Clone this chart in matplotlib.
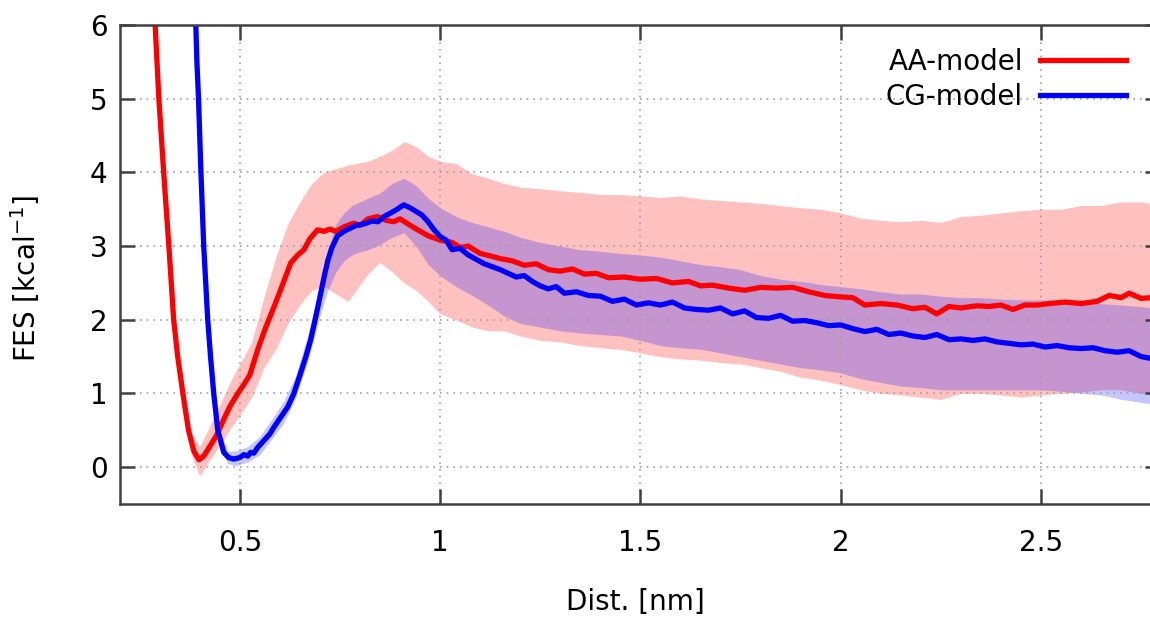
import numpy as np
import matplotlib
matplotlib.use("Agg")
import matplotlib.pyplot as plt

# AA-model curve (dist in nm, FES in kcal)
aa_dist = [0.285, 0.298, 0.310, 0.323, 0.335, 0.345, 0.358, 0.372, 0.385, 0.398,
           0.410, 0.425, 0.445, 0.460, 0.475, 0.495, 0.510, 0.525, 0.545, 0.565,
           0.585, 0.605, 0.627, 0.645, 0.660, 0.675, 0.694, 0.710, 0.725, 0.740,
           0.760, 0.784, 0.800, 0.820, 0.844, 0.865, 0.884, 0.900, 0.920, 0.944,
           0.970, 1.000, 1.030, 1.050, 1.070, 1.100, 1.130, 1.150, 1.180, 1.210,
           1.240, 1.270, 1.300, 1.330, 1.360, 1.390, 1.420, 1.460, 1.500, 1.540,
           1.580, 1.620, 1.650, 1.680, 1.720, 1.760, 1.800, 1.840, 1.880, 1.920,
           1.960, 2.000, 2.030, 2.060, 2.100, 2.140, 2.180, 2.210, 2.240, 2.270,
           2.300, 2.340, 2.370, 2.400, 2.430, 2.460, 2.490, 2.520, 2.560, 2.600,
           2.640, 2.670, 2.700, 2.720, 2.750, 2.800]
aa_fes = [6.40, 5.00, 4.00, 3.00, 2.00, 1.50, 1.00, 0.50, 0.22, 0.10,
          0.15, 0.28, 0.46, 0.65, 0.82, 1.00, 1.12, 1.25, 1.60, 1.90,
          2.17, 2.45, 2.77, 2.88, 2.95, 3.10, 3.22, 3.20, 3.23, 3.20,
          3.26, 3.31, 3.28, 3.37, 3.40, 3.35, 3.33, 3.37, 3.30, 3.22,
          3.14, 3.08, 3.05, 2.98, 3.00, 2.90, 2.86, 2.83, 2.80, 2.74,
          2.76, 2.68, 2.66, 2.69, 2.62, 2.63, 2.57, 2.58, 2.55, 2.56,
          2.50, 2.52, 2.46, 2.47, 2.43, 2.40, 2.44, 2.43, 2.44, 2.38,
          2.33, 2.31, 2.30, 2.20, 2.22, 2.20, 2.15, 2.17, 2.08, 2.18,
          2.16, 2.19, 2.18, 2.20, 2.14, 2.20, 2.20, 2.22, 2.24, 2.22,
          2.25, 2.33, 2.30, 2.36, 2.29, 2.31]

# AA-model error band
aa_band_x = [0.36, 0.38, 0.40, 0.42, 0.45, 0.48, 0.50, 0.53, 0.56, 0.59,
             0.62, 0.65, 0.68, 0.71, 0.74, 0.77, 0.79, 0.82, 0.85, 0.88,
             0.91, 0.94, 0.97, 1.00, 1.04, 1.08, 1.12, 1.16, 1.20, 1.25,
             1.30, 1.35, 1.40, 1.45, 1.50, 1.55, 1.60, 1.65, 1.70, 1.75,
             1.80, 1.85, 1.90, 1.95, 2.00, 2.05, 2.10, 2.15, 2.20, 2.25,
             2.30, 2.35, 2.40, 2.45, 2.50, 2.55, 2.60, 2.65, 2.70, 2.75, 2.80]
aa_lower = [0.85, 0.15, -0.12, 0.05, 0.30, 0.55, 0.70, 0.95, 1.35, 1.60,
            1.95, 2.20, 2.40, 2.45, 2.35, 2.25, 2.40, 2.62, 2.78, 2.65,
            2.50, 2.40, 2.25, 2.08, 2.00, 1.90, 1.85, 1.85, 1.78, 1.72,
            1.70, 1.65, 1.62, 1.60, 1.55, 1.50, 1.47, 1.45, 1.42, 1.40,
            1.35, 1.30, 1.22, 1.18, 1.12, 1.05, 1.00, 0.98, 0.95, 0.92,
            1.00, 1.00, 0.98, 0.95, 0.98, 1.00, 1.02, 1.05, 1.05, 1.00, 0.98]
aa_upper = [1.05, 0.45, 0.28, 0.50, 0.85, 1.20, 1.40, 1.70, 2.30, 2.85,
            3.30, 3.60, 3.85, 4.00, 4.05, 4.10, 4.12, 4.15, 4.22, 4.30,
            4.42, 4.35, 4.22, 4.15, 4.12, 3.98, 3.92, 3.85, 3.80, 3.78,
            3.75, 3.73, 3.70, 3.70, 3.68, 3.66, 3.68, 3.64, 3.62, 3.60,
            3.58, 3.55, 3.52, 3.50, 3.45, 3.38, 3.35, 3.33, 3.35, 3.32,
            3.40, 3.42, 3.45, 3.48, 3.50, 3.50, 3.55, 3.55, 3.60, 3.60, 3.55]

# CG-model curve
cg_dist = [0.388, 0.393, 0.397, 0.403, 0.410, 0.420, 0.427, 0.435, 0.445, 0.460,
           0.472, 0.485, 0.500, 0.510, 0.520, 0.527, 0.535, 0.545, 0.560, 0.575,
           0.585, 0.600, 0.620, 0.635, 0.652, 0.665, 0.677, 0.690, 0.702, 0.712,
           0.720, 0.730, 0.744, 0.760, 0.775, 0.790, 0.810, 0.830, 0.845, 0.860,
           0.877, 0.893, 0.909, 0.925, 0.940, 0.955, 0.970, 0.985, 1.000, 1.015,
           1.030, 1.050, 1.070, 1.090, 1.110, 1.130, 1.150, 1.170, 1.190, 1.210,
           1.230, 1.250, 1.270, 1.290, 1.310, 1.340, 1.370, 1.400, 1.430, 1.460,
           1.490, 1.520, 1.550, 1.580, 1.610, 1.640, 1.670, 1.700, 1.730, 1.760,
           1.790, 1.820, 1.850, 1.880, 1.910, 1.940, 1.970, 2.000, 2.030, 2.060,
           2.090, 2.120, 2.150, 2.180, 2.210, 2.240, 2.270, 2.300, 2.330, 2.360,
           2.390, 2.420, 2.450, 2.480, 2.510, 2.540, 2.570, 2.600, 2.630, 2.660,
           2.690, 2.720, 2.750, 2.800]
cg_fes = [6.40, 5.50, 5.00, 4.00, 3.00, 2.00, 1.50, 1.00, 0.50, 0.20,
          0.13, 0.11, 0.13, 0.17, 0.15, 0.20, 0.19, 0.27, 0.36, 0.45,
          0.54, 0.66, 0.82, 1.00, 1.28, 1.50, 1.73, 2.05, 2.36, 2.62,
          2.81, 2.98, 3.14, 3.20, 3.24, 3.28, 3.30, 3.34, 3.33, 3.40,
          3.45, 3.50, 3.56, 3.52, 3.47, 3.42, 3.33, 3.22, 3.13, 3.08,
          2.95, 2.97, 2.88, 2.82, 2.76, 2.72, 2.68, 2.63, 2.58, 2.60,
          2.52, 2.46, 2.42, 2.45, 2.36, 2.38, 2.33, 2.32, 2.25, 2.28,
          2.20, 2.23, 2.20, 2.24, 2.16, 2.14, 2.13, 2.16, 2.08, 2.12,
          2.03, 2.02, 2.06, 1.98, 1.99, 1.96, 1.92, 1.93, 1.88, 1.84,
          1.87, 1.80, 1.82, 1.78, 1.76, 1.80, 1.73, 1.74, 1.72, 1.74,
          1.70, 1.68, 1.66, 1.67, 1.63, 1.65, 1.62, 1.61, 1.62, 1.58,
          1.56, 1.58, 1.50, 1.45]

# CG-model error band
cg_band_x = [0.44, 0.45, 0.47, 0.49, 0.52, 0.55, 0.58, 0.61, 0.64, 0.67,
             0.70, 0.72, 0.74, 0.76, 0.78, 0.80, 0.82, 0.85, 0.88, 0.91,
             0.94, 0.97, 1.00, 1.04, 1.08, 1.12, 1.16, 1.20, 1.25, 1.30,
             1.35, 1.40, 1.45, 1.50, 1.55, 1.60, 1.65, 1.70, 1.75, 1.80,
             1.85, 1.90, 1.95, 2.00, 2.05, 2.10, 2.15, 2.20, 2.25, 2.30,
             2.35, 2.40, 2.45, 2.50, 2.55, 2.60, 2.65, 2.70, 2.75, 2.80]
cg_lower = [0.55, 0.30, 0.05, 0.02, 0.07, 0.17, 0.38, 0.60, 0.95, 1.45,
            2.05, 2.40, 2.65, 2.80, 2.88, 2.92, 2.95, 3.02, 3.12, 3.18,
            3.00, 2.75, 2.60, 2.45, 2.33, 2.20, 2.05, 1.95, 1.90, 1.85,
            1.82, 1.80, 1.78, 1.72, 1.65, 1.62, 1.60, 1.55, 1.50, 1.45,
            1.40, 1.35, 1.32, 1.28, 1.20, 1.15, 1.10, 1.08, 1.05, 1.05,
            1.05, 1.05, 1.05, 1.05, 1.03, 1.00, 0.98, 0.92, 0.88, 0.84]
cg_upper = [0.75, 0.50, 0.22, 0.22, 0.28, 0.42, 0.65, 0.90, 1.25, 1.80,
            2.45, 2.95, 3.30, 3.45, 3.55, 3.60, 3.65, 3.72, 3.85, 3.92,
            3.82, 3.65, 3.52, 3.40, 3.32, 3.26, 3.20, 3.12, 3.05, 3.00,
            2.95, 2.93, 2.90, 2.88, 2.85, 2.80, 2.75, 2.72, 2.68, 2.60,
            2.55, 2.52, 2.48, 2.45, 2.42, 2.38, 2.35, 2.35, 2.32, 2.30,
            2.30, 2.28, 2.27, 2.27, 2.25, 2.25, 2.22, 2.20, 2.18, 2.14]

x_ticks = [0.5, 1, 1.5, 2, 2.5]
x_tick_labels = ["0.5", "1", "1.5", "2", "2.5"]
y_ticks = [0, 1, 2, 3, 4, 5, 6]

plt.rcParams['font.family'] = ['DejaVu Sans']

fig = plt.figure(figsize=(11.5, 6.2), dpi=100)
# axes reaches a bit past the right edge like the cropped original
ax = fig.add_axes([120/1150, 116/620, 1040/1150, 479/620])

ax.fill_between(aa_band_x, aa_lower, aa_upper, color="#ff2020", alpha=0.28, lw=0)
ax.plot(aa_dist, aa_fes, color="#ff0000", lw=3.8, label="AA-model")
ax.fill_between(cg_band_x, cg_lower, cg_upper, color="#1010ff", alpha=0.24, lw=0)
ax.plot(cg_dist, cg_fes, color="#0000ff", lw=3.8, label="CG-model")

ax.set_xlim(0.201, 2.797)
ax.set_ylim(-0.5, 6)
ax.set_xticks(x_ticks, labels=x_tick_labels)
ax.set_yticks(y_ticks)
ax.grid(True, color="#a0a0a0", linestyle=(0, (1, 3)), lw=1.2)

for s in ax.spines.values():
    s.set_color("#404040")
    s.set_linewidth(1.8)
ax.tick_params(direction="in", length=11, width=1.8, color="#404040",
               top=True, right=True, labelsize=20)
ax.tick_params(axis="x", pad=18)
ax.tick_params(axis="y", pad=9)

ax.set_xlabel("Dist. [nm]", fontsize=20)
ax.set_ylabel("FES [kcal$^{-1}$]", fontsize=20)
ax.xaxis.set_label_coords(0.496, -0.175)
ax.yaxis.set_label_coords(-0.075, 0.47)

leg = ax.legend(loc="upper right", bbox_to_anchor=(0.991, 1.005), frameon=False,
                markerfirst=False, fontsize=20, handlelength=3.1,
                handletextpad=0.6, labelspacing=0.25)

fig.savefig("out.png", dpi=100)
